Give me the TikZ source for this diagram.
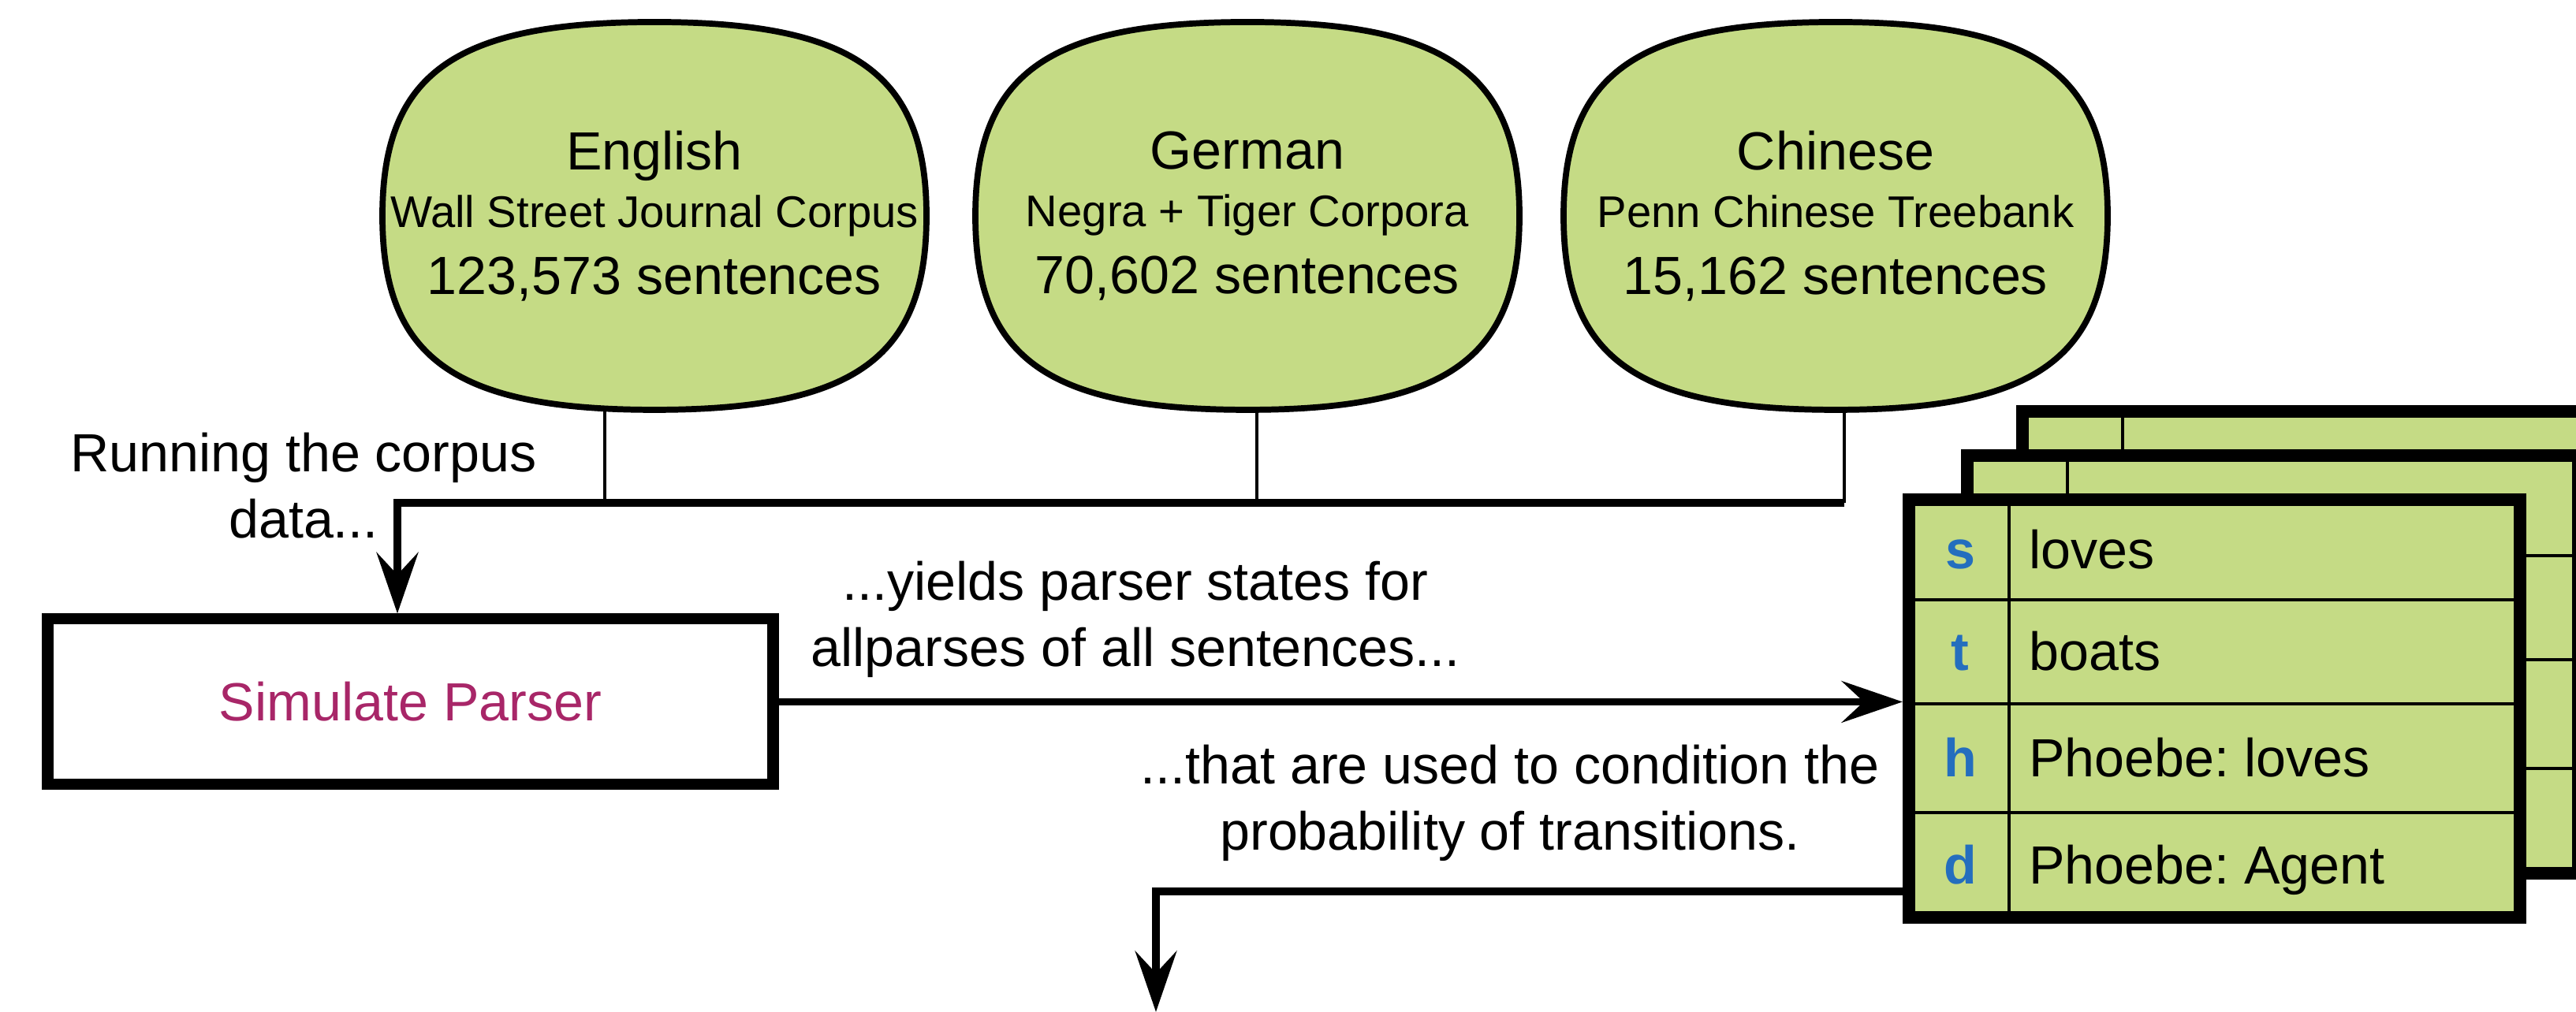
\documentclass[tikz,border=0pt]{standalone}
\usepackage{fontspec}
\setmainfont{Liberation Sans}
\frenchspacing
\usetikzlibrary{arrows.meta}
\definecolor{leaf}{HTML}{C5DB85}
\definecolor{plum}{HTML}{A82668}
\definecolor{key}{HTML}{246EBE}

\begin{document}
\begin{tikzpicture}[x=1cm,y=1cm,font=\fontsize{9.7}{12}\selectfont,
 corpus/.style={minimum width=3.45cm,minimum height=2.46cm,inner sep=0pt,align=center},
 blob/.style={draw=black,fill=leaf,line width=1.1pt},
 simbox/.style={draw=black,fill=white,line width=2pt,minimum width=4.6cm,minimum height=1.05cm,text=plum},
 cardbox/.style={draw=black,fill=leaf,line width=2.3pt,minimum width=3.875cm,minimum height=2.65cm},
 rowline/.style={draw=black,line width=.6pt},
 rowkey/.style={font=\bfseries\fontsize{9.7}{12}\selectfont,text=key,anchor=base,inner sep=0pt},
 rowval/.style={anchor=base west,inner sep=0pt},
 link/.style={draw=black,line width=.7pt},
 flow/.style={-{Stealth[length=11pt,width=7.5pt,inset=4pt]},draw=black,line width=1.3pt}]
\path[use as bounding box] (0,0) rectangle (16.335,6.42);
\clip (0,0) rectangle (16.335,6.42);
% corpus blobs first, text nodes on top
\foreach \cx in {4.15,7.91,11.64}
 \draw[blob,shift={(\cx,5.05)}] (1.725,0) .. controls (1.725,.9) and (1.27,1.23) .. (0,1.23)
  .. controls (-1.27,1.23) and (-1.725,.9) .. (-1.725,0)
  .. controls (-1.725,-.9) and (-1.27,-1.23) .. (0,-1.23)
  .. controls (1.27,-1.23) and (1.725,-.9) .. (1.725,0) -- cycle;
\node[corpus] (eng) at (4.15,5.05)
 {English\\[-1.6pt]{\fontsize{8}{10}\selectfont Wall Street Journal Corpus}\\123,573 sentences};
\node[corpus] (ger) at (7.91,5.05)
 {German\\[-1.6pt]{\fontsize{8}{10}\selectfont Negra + Tiger Corpora}\\70,602 sentences};
\node[corpus] (chi) at (11.64,5.05)
 {Chinese\\[-1.6pt]{\fontsize{8}{10}\selectfont Penn Chinese Treebank}\\15,162 sentences};
\node[simbox] (sim) at (2.6025,1.9675) {Simulate Parser};
\coordinate (bus) at (2.52,3.23);
\foreach \n/\dx in {eng/-.315,ger/.06,chi/.055}{
 \coordinate (\n-out) at ([xshift=\dx cm]\n.south);
 \draw[link] (\n-out) -- (\n-out |- bus);}
\draw[flow,line width=1.5pt] (chi-out |- bus) -- (bus) -- (bus |- sim.north);
\node[align=center] (runlbl) at (1.925,3.34) {Running the corpus\\data...};
% stacked state cards, back to front
\foreach \dx/\dy in {.72/.56,.37/.28}{
 \begin{scope}[shift={(\dx,\dy)}]
  \draw[draw=black,fill=leaf,line width=2.3pt] (12.105,.6) rectangle (15.98,3.25);
  \foreach \ry in {2.615,1.955,1.265} \draw[rowline] (12.105,\ry) -- (15.98,\ry);
  \draw[rowline] (12.74,3.25) -- (12.74,.6);
 \end{scope}}
\node[cardbox] (card) at (14.0425,1.925) {};
\foreach \ry in {2.615,1.955,1.265} \draw[rowline] (12.105,\ry) -- (15.98,\ry);
\draw[rowline] (12.74,3.25) -- (12.74,.6);
\foreach \k/\v/\ry [count=\i] in {s/loves/2.9325,t/boats/2.285,h/Phoebe: loves/1.61,d/Phoebe: Agent/.9325}{
 \node[rowkey] (key\i) at (12.43,\ry-.12) {\k};
 \node[rowval] (val\i) at (12.86,\ry-.12) {\v};}
\draw[flow] (sim.east) -- (sim.east -| card.west);
\node[align=center] (yieldlbl) at (7.2,2.49) {...yields parser states for\\allparses of all sentences...};
\coordinate (next) at (7.33,0);
\draw[flow] ([yshift=2.05mm]card.south west) -| (next);
\node[align=center] (condlbl) at (9.575,1.325) {...that are used to condition the\\probability of transitions.};
\end{tikzpicture}
\end{document}
